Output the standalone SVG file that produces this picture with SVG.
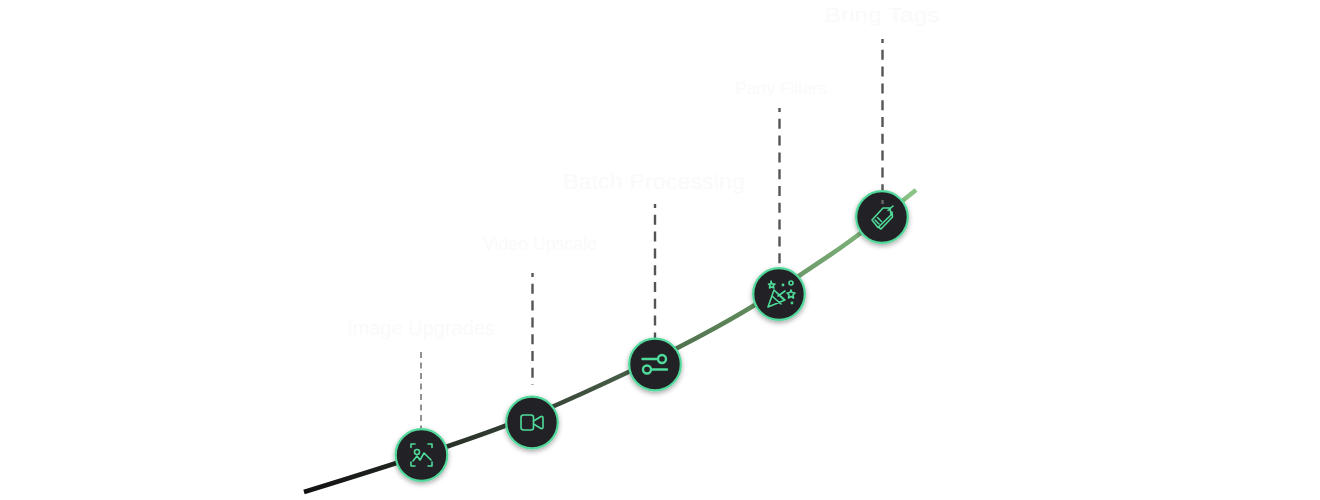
<svg xmlns="http://www.w3.org/2000/svg" width="1320" height="500" viewBox="0 0 1320 500">
<style>
.lead{fill:none;stroke:#555;stroke-width:2.400;stroke-dasharray:10 6.800}
.thin{stroke-width:1.600;stroke:#777;stroke-dasharray:6 4.500}
.disc{fill:#222226;stroke:#52d99c;stroke-width:2.200}
.ico{fill:none;stroke:#4fdc9a;stroke-width:1.600;stroke-linecap:round;stroke-linejoin:round}
.bold{stroke-width:2.400}
.lbl{font-family:"Liberation Sans",Arial,sans-serif;fill:#fafafa;text-anchor:middle}
</style>
<defs>
<linearGradient id="g" gradientUnits="userSpaceOnUse" x1="304" y1="492" x2="916" y2="190">
<stop offset="0" stop-color="#111"/><stop offset=".4" stop-color="#3c4a3c"/><stop offset=".7" stop-color="#5f8a5c"/><stop offset="1" stop-color="#8cc488"/>
</linearGradient>
<filter id="s" x="-30%" y="-30%" width="160%" height="160%"><feDropShadow dx="0" dy="2" stdDeviation="2.500" flood-color="#000" flood-opacity=".35"/></filter>
</defs>
<rect width="1320" height="500" fill="#fff"/>
<g id="connectors">
<path d="M304 492Q395 464 450 445.500Q505 427 542.500 411Q580 395 628.500 372Q677 349 715 328Q753 307 776.500 291Q800 275 830 255Q860 235 916 190" fill="none" stroke="url(#g)" stroke-width="4.600"/>
<path class="lead thin" d="M421 352V429"/>
<path class="lead" d="M532.500 273V385" stroke-dashoffset="6"/>
<path class="lead" d="M655 204V340" stroke-dashoffset="6"/>
<path class="lead" d="M779.500 108V270" stroke-dashoffset="6"/>
<path class="lead" d="M882.500 39V192" stroke-dashoffset="6"/>
</g>
<g id="node-1"><circle class="disc" cx="421.500" cy="455" r="25.800" filter="url(#s)"/>
<path class="ico" d="M411 447.500V444H415M428 444H432V447.500M411 462V466H415M428 466H432V462M413 461L417 456L420 460L424 453L431 460"/><circle class="ico" cx="417" cy="452" r="2.500"/>
<text class="lbl" x="421" y="335" font-size="20" textLength="148" lengthAdjust="spacingAndGlyphs">Image Upgrades</text></g>
<g id="node-2"><circle class="disc" cx="532" cy="422.500" r="25.800" filter="url(#s)"/>
<rect class="ico" x="521" y="415" width="12.500" height="15" rx="2.500"/><path class="ico" d="M533.500 421L541 416.500Q543 416 543 418V427Q543 429 541 428.500L533.500 424"/>
<text class="lbl" x="540" y="250" font-size="18" textLength="114" lengthAdjust="spacingAndGlyphs">Video Upscale</text></g>
<g id="node-3"><circle class="disc" cx="655" cy="364.500" r="25.800" filter="url(#s)"/>
<path class="ico bold" d="M642.500 359H658M651.500 369.500H667"/><circle class="ico bold" cx="662" cy="359" r="4"/><circle class="ico bold" cx="647" cy="369.500" r="4"/>
<text class="lbl" x="654" y="189" font-size="22" textLength="182" lengthAdjust="spacingAndGlyphs">Batch Processing</text></g>
<g id="node-4"><circle class="disc" cx="779" cy="294" r="25.800" filter="url(#s)"/>
<path class="ico" d="M768 307L774 290L785 300ZM772 296L781 304M776 292L783 299M778 296L785 291M771 281L772 284L775 284L773 286L774 288L771.500 287L769.500 288L770 285.500L768.500 284L771 284ZM791 290L792 292.500L795 293L793 295L793.500 298L791 296.500L788.500 298L789 295L787 293L790 292.500Z"/><circle class="ico" cx="791" cy="283" r="2"/><circle class="ico" cx="783" cy="285" r=".6"/><circle class="ico" cx="792" cy="303" r=".6"/>
<text class="lbl" x="781" y="94" font-size="17" textLength="91" lengthAdjust="spacingAndGlyphs">Party Filters</text></g>
<g id="node-5"><circle class="disc" cx="882" cy="217" r="25.800" filter="url(#s)"/>
<path class="ico" d="M872 220L883 208L890 208L891 215L878 227.500ZM875 220L879 224M877.500 217.500L881.500 221.500M888 210.500L893 206M892 212L892.500 217L881 229L879 227.500"/>
<path d="M882.500 200V204" stroke="#666" stroke-width="2.400"/>
<text class="lbl" x="882" y="22" font-size="20" textLength="115" lengthAdjust="spacingAndGlyphs">Bring Tags</text></g>
</svg>
